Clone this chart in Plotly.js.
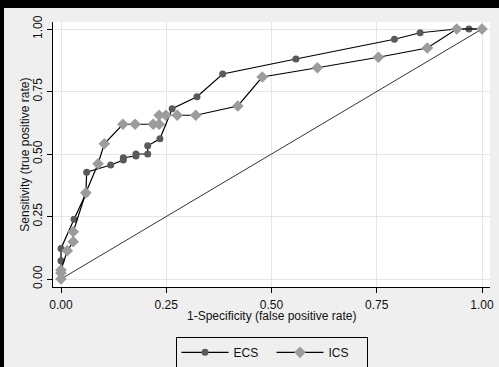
<!DOCTYPE html>
<html>
<head>
<meta charset="utf-8">
<script src="https://cdn.plot.ly/plotly-3.0.1.min.js"></script>
<style>
html,body{margin:0;padding:0;background:#000;width:499px;height:367px;overflow:hidden;}
#chart{position:absolute;left:4px;top:8px;width:495px;height:359px;}
</style>
</head>
<body>
<div id="chart"></div>
<script>
// ECS ROC points (1-specificity, sensitivity)
const ecsX = [0, 0, 0, 0, 0.031, 0.059, 0.061, 0.118, 0.148, 0.148, 0.178, 0.178, 0.206, 0.206, 0.235, 0.264, 0.323, 0.384, 0.558, 0.792, 0.853, 0.94, 0.969, 1.0];
const ecsY = [0, 0.024, 0.073, 0.122, 0.239, 0.341, 0.427, 0.456, 0.476, 0.485, 0.492, 0.50, 0.50, 0.533, 0.561, 0.681, 0.729, 0.82, 0.88, 0.959, 0.985, 1.0, 1.0, 1.0];
// ICS ROC points
const icsX = [0, 0, 0, 0.015, 0.029, 0.029, 0.059, 0.088, 0.103, 0.147, 0.176, 0.219, 0.233, 0.233, 0.249, 0.276, 0.32, 0.42, 0.478, 0.609, 0.754, 0.87, 0.94, 1.0];
const icsY = [0, 0.024, 0.036, 0.113, 0.149, 0.189, 0.345, 0.461, 0.541, 0.619, 0.619, 0.619, 0.619, 0.655, 0.655, 0.655, 0.655, 0.692, 0.808, 0.845, 0.887, 0.924, 1.0, 1.0];
// reference diagonal
const refX = [0, 1];
const refY = [0, 1];
const tickVals = [0, 0.25, 0.5, 0.75, 1];
const tickText = ["0.00", "0.25", "0.50", "0.75", "1.00"];
const seriesNames = ["ECS", "ICS"];
const xTitle = "1-Specificity (false positive rate)";
const yTitle = "Sensitivity (true positive rate)";

const font = {family: "Liberation Sans, Arial, sans-serif", size: 12, color: "#111"};

const traces = [
  {x: refX, y: refY, mode: "lines", line: {color: "#333", width: 1}, showlegend: false, hoverinfo: "skip"},
  {x: ecsX, y: ecsY, name: seriesNames[0], mode: "lines+markers",
   line: {color: "#000", width: 1.2}, marker: {symbol: "circle", size: 7, color: "#5a5a5a"}},
  {x: icsX, y: icsY, name: seriesNames[1], mode: "lines+markers",
   line: {color: "#000", width: 1.2}, marker: {symbol: "diamond", size: 9, color: "#9c9c9c"}}
];

const layout = {
  width: 495, height: 359,
  paper_bgcolor: "#efefef", plot_bgcolor: "#ffffff",
  margin: {l: 49, r: 9, t: 14, b: 80, autoexpand: false},
  font: font,
  xaxis: {
    range: [-0.019, 1.019], tickvals: tickVals, ticktext: tickText,
    showline: true, linecolor: "#000", linewidth: 1, mirror: false,
    ticks: "outside", ticklen: 5, tickcolor: "#000", tickwidth: 1, ticklabelstandoff: 2,
    showgrid: true, gridcolor: "#e6e6e6", gridwidth: 1, zeroline: false
  },
  yaxis: {
    range: [-0.032, 1.028], tickvals: tickVals, ticktext: tickText, tickangle: -90,
    showline: true, linecolor: "#000", linewidth: 1, mirror: false,
    ticks: "outside", ticklen: 5, tickcolor: "#000", tickwidth: 1, ticklabelstandoff: 0,
    showgrid: true, gridcolor: "#e6e6e6", gridwidth: 1, zeroline: false
  },
  annotations: [
    {text: xTitle, xref: "paper", yref: "paper", x: 0.5, y: -0.11, xanchor: "center", yanchor: "middle",
     showarrow: false, font: font},
    {text: yTitle, xref: "paper", yref: "paper", x: -0.066, y: 0.5, xanchor: "center", yanchor: "middle",
     textangle: -90, showarrow: false, font: font}
  ],
  legend: {
    orientation: "h", x: 0.5, xanchor: "center", y: -0.188, yanchor: "top",
    bgcolor: "rgba(0,0,0,0)", bordercolor: "#000", borderwidth: 1,
    font: font, itemwidth: 47, entrywidth: 33, entrywidthmode: "pixels"
  },
  showlegend: true
};

Plotly.newPlot("chart", traces, layout, {displayModeBar: false, staticPlot: true});
</script>
</body>
</html>
